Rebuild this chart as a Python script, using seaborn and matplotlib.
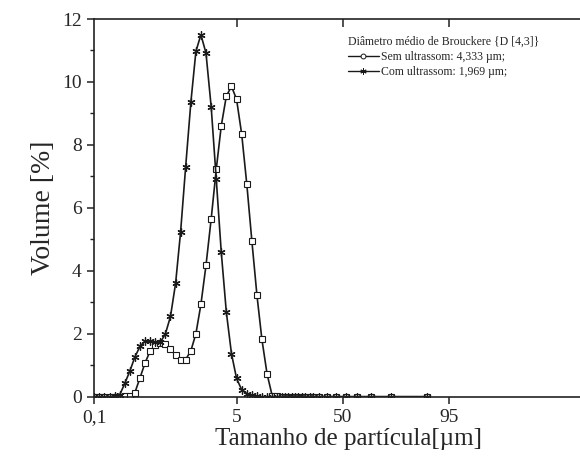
import numpy as np
import pandas as pd
import matplotlib
matplotlib.use("Agg")
import matplotlib.pyplot as plt
from matplotlib.lines import Line2D
from matplotlib.ticker import FixedLocator, MultipleLocator
import seaborn as sns

# ---------------- data ----------------
# particle size [µm] of each measured bin
size_um = [0.100, 0.115, 0.132, 0.152, 0.175, 0.201, 0.231, 0.266, 0.305, 0.351,
           0.404, 0.464, 0.534, 0.614, 0.706, 0.811, 0.933, 1.07, 1.23, 1.42,
           1.63, 1.87, 2.15, 2.48, 2.85, 3.27, 3.76, 4.33, 4.98,
           7.12, 9.29, 11.45, 13.6, 15.7, 17.9, 20.1, 22.2,
           24.1, 25.5, 26.8, 28.4, 29.8, 31.1, 32.6, 34.0, 36.2, 37.4,
           40.0, 43.4, 47.2, 51.4, 56.1, 62.0, 70.5, 85.8]

# volume [%] without ultrasound
sem_ultrassom = [0, 0, 0, 0, 0, 0, 0.01, 0.03, 0.13, 0.60,
                 1.08, 1.45, 1.64, 1.70, 1.67, 1.50, 1.33, 1.17, 1.18, 1.46,
                 2.00, 2.93, 4.17, 5.65, 7.22, 8.60, 9.55, 9.86, 9.45,
                 8.34, 6.75, 4.94, 3.22, 1.82, 0.72, 0.02, 0.01,
                 0, 0, 0, 0, 0, 0, 0, 0, 0, 0,
                 0, 0, 0, 0, 0, 0, 0, 0]

# volume [%] with ultrasound
com_ultrassom = [0, 0, 0, 0, 0.02, 0.06, 0.42, 0.82, 1.26, 1.60,
                 1.77, 1.76, 1.74, 1.73, 2.00, 2.55, 3.60, 5.23, 7.30, 9.36,
                 10.97, 11.50, 10.92, 9.21, 6.92, 4.60, 2.69, 1.37, 0.58,
                 0.22, 0.10, 0.04, 0.02, 0, 0, 0, 0,
                 0, 0, 0, 0, 0, 0, 0, 0, 0, 0,
                 0, 0, 0, 0, 0, 0, 0, 0]

xtick_values = [0.1, 5, 50, 95]
xtick_labels = ["0,1", "5", "50", "95"]
top_tick_values = [5, 50, 95]

legend_title = "Diâmetro médio de Brouckere {D [4,3]}"
label_sem = "Sem ultrassom: 4,333 µm;"
label_com = "Com ultrassom: 1,969 µm;"

df = pd.DataFrame({"size": size_um, "sem": sem_ultrassom, "com": com_ultrassom})

# ---------------- custom broken x-scale (log up to 5 µm, linear after) ----------------
LOG_SPAN = 142.4
LIN_SLOPE = 106.0 / 45.0
LOG_DEC = np.log10(50.0)


def fwd(v):
    v = np.clip(np.asarray(v, dtype=float), 1e-3, None)
    return np.where(v <= 5,
                    np.log10(v / 0.1) / LOG_DEC * LOG_SPAN,
                    LOG_SPAN + (v - 5) * LIN_SLOPE)


def inv(u):
    u = np.asarray(u, dtype=float)
    ul = np.minimum(u, LOG_SPAN)
    return np.where(u <= LOG_SPAN,
                    0.1 * 10 ** (ul / LOG_SPAN * LOG_DEC),
                    5 + (u - LOG_SPAN) / LIN_SLOPE)


# ---------------- styling ----------------
sns.set_style("ticks")
plt.rcParams["font.family"] = ["Liberation Serif", "DejaVu Serif"]
plt.rcParams["mathtext.fontset"] = "stix"

W, H = 580, 468
fig = plt.figure(figsize=(W / 100, H / 100), dpi=100)
x_max = 160
axes_width_px = float(fwd(x_max))
ax = fig.add_axes([94.3 / W, (H - 396.7) / H, axes_width_px / W, 377.7 / H])

ax.set_xscale("function", functions=(fwd, inv))

line_kw = dict(color="#1a1a1a", linewidth=1.2, estimator=None, legend=False)
sns.lineplot(data=df, x="size", y="sem", ax=ax, marker="s", markersize=4.4,
             markerfacecolor="white", markeredgecolor="#1a1a1a",
             markeredgewidth=0.8, **line_kw)
sns.lineplot(data=df, x="size", y="com", ax=ax, marker=(6, 2, 0), markersize=5.8,
             markeredgecolor="#1a1a1a", markeredgewidth=0.9, **line_kw)

ax.set_xlim(0.1, x_max)
ax.set_ylim(0, 12)

ax.xaxis.set_major_locator(FixedLocator(xtick_values))
ax.set_xticklabels(xtick_labels)
ax.xaxis.set_minor_locator(FixedLocator([]))
ax.yaxis.set_major_locator(MultipleLocator(2))
ax.yaxis.set_minor_locator(MultipleLocator(1))

for s in ax.spines.values():
    s.set_linewidth(1.2)
    s.set_color("#222222")

ax.tick_params(axis="both", which="major", direction="out", length=5, width=1.1,
               labelsize=14, color="#222222", pad=4)
ax.tick_params(axis="y", which="minor", direction="out", length=3, width=1.0,
               color="#222222")
ax.tick_params(axis="x", which="minor", length=0)

# inward ticks on the top edge
ax2 = ax.twiny()
ax2.set_xscale("function", functions=(fwd, inv))
ax2.set_xlim(ax.get_xlim())
ax2.xaxis.set_major_locator(FixedLocator(top_tick_values))
ax2.xaxis.set_minor_locator(FixedLocator([]))
ax2.tick_params(axis="x", which="major", direction="in", length=6, width=1.1,
                labeltop=False, color="#222222")
for s in ax2.spines.values():
    s.set_visible(False)

ax.set_xlabel("Tamanho de partícula[µm]", fontsize=18, labelpad=1)
ax.set_ylabel("Volume [%]", fontsize=20, labelpad=4)

handles = [
    Line2D([], [], color="#1a1a1a", linewidth=1.0, marker="o", markersize=3.5,
           markerfacecolor="white", markeredgecolor="#1a1a1a", markeredgewidth=0.7),
    Line2D([], [], color="#1a1a1a", linewidth=1.0, marker=(6, 2, 0), markersize=4.5,
           markeredgecolor="#1a1a1a", markeredgewidth=0.7),
]
leg = ax.legend(handles, [label_sem, label_com], title=legend_title,
                loc="upper left", bbox_to_anchor=(342 / W, 1 - 30 / H),
                bbox_transform=fig.transFigure, frameon=False,
                fontsize=8.5, title_fontsize=8.5, handlelength=2.6,
                handletextpad=0.2, borderpad=0, labelspacing=0.25,
                alignment="left")

fig.savefig("out.png", dpi=100)
